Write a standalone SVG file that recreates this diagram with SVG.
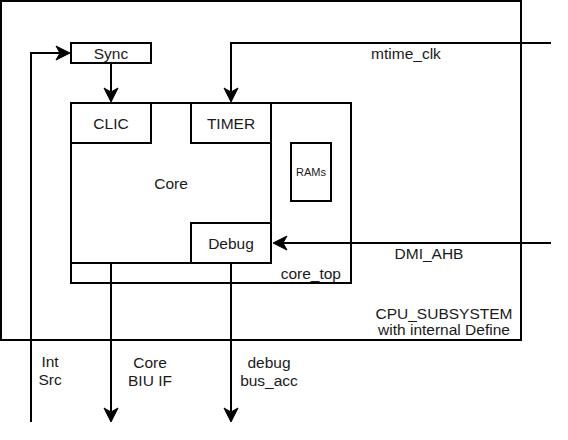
<svg xmlns="http://www.w3.org/2000/svg" width="568" height="440" viewBox="0 0 568 440">
  <style>
    .box { fill: #ffffff; stroke: #000000; stroke-width: 2; }
    .frame { fill: none; stroke: #000000; stroke-width: 2; }
    .wire { fill: none; stroke: #000000; stroke-width: 2; }
    text { font-family: "Liberation Sans", Arial, sans-serif; font-size: 15.5px; fill: #1a1a1a; dominant-baseline: central; }
    .c { text-anchor: middle; }
    .r { text-anchor: end; }
    .small { font-size: 11px; }
  </style>
  <defs>
    <marker id="arrow" markerUnits="userSpaceOnUse" markerWidth="20" markerHeight="20" refX="12" refY="8" orient="auto" overflow="visible">
      <path d="M16,8 L2,1 L6,8 L2,15 Z" fill="#000000" stroke="#000000" stroke-width="1" stroke-linejoin="miter"/>
    </marker>
  </defs>

  <rect width="568" height="440" fill="#ffffff"/>

  <!-- CPU subsystem boundary -->
  <g id="cpu_subsystem">
    <rect class="frame" x="1" y="1" width="520" height="339"/>
    <text class="c" x="444" y="313">CPU_SUBSYSTEM</text>
    <text class="c" x="444" y="329">with internal Define</text>
  </g>

  <!-- core_top wrapper -->
  <g id="core_top">
    <rect class="box" x="71" y="103" width="280" height="180"/>
    <text class="r" x="341" y="273">core_top</text>
  </g>

  <g id="core">
    <rect class="box" x="71" y="103" width="200" height="160"/>
    <text class="c" x="171" y="183">Core</text>
  </g>

  <g id="clic">
    <rect class="box" x="71" y="103" width="80" height="40"/>
    <text class="c" x="111" y="123">CLIC</text>
  </g>

  <g id="timer">
    <rect class="box" x="191" y="103" width="80" height="40"/>
    <text class="c" x="231" y="123">TIMER</text>
  </g>

  <g id="debug">
    <rect class="box" x="191" y="223" width="80" height="40"/>
    <text class="c" x="231" y="243">Debug</text>
  </g>

  <g id="rams">
    <rect class="box" x="291" y="143" width="40" height="58"/>
    <text class="c small" x="311" y="172">RAMs</text>
  </g>

  <g id="sync">
    <rect class="box" x="71" y="43" width="80" height="20"/>
    <text class="c" x="111" y="53">Sync</text>
  </g>

  <!-- signal connectors -->
  <g id="connectors">
    <path class="wire" d="M31,422 V53 H66" marker-end="url(#arrow)"/>
    <path class="wire" d="M111,63 V98" marker-end="url(#arrow)"/>
    <path class="wire" d="M551,43 H231 V98" marker-end="url(#arrow)"/>
    <path class="wire" d="M551,243 H277" marker-end="url(#arrow)"/>
    <path class="wire" d="M111,263 V418" marker-end="url(#arrow)"/>
    <path class="wire" d="M231,263 V418" marker-end="url(#arrow)"/>
  </g>

  <!-- connector labels -->
  <g id="labels">
    <text class="c" x="406" y="53">mtime_clk</text>
    <text class="c" x="429" y="253">DMI_AHB</text>
    <text class="c" x="50" y="361">Int</text>
    <text class="c" x="50" y="379">Src</text>
    <text class="c" x="150" y="362">Core</text>
    <text class="c" x="150" y="380">BIU IF</text>
    <text class="c" x="269" y="362">debug</text>
    <text class="c" x="269" y="380">bus_acc</text>
  </g>
</svg>
